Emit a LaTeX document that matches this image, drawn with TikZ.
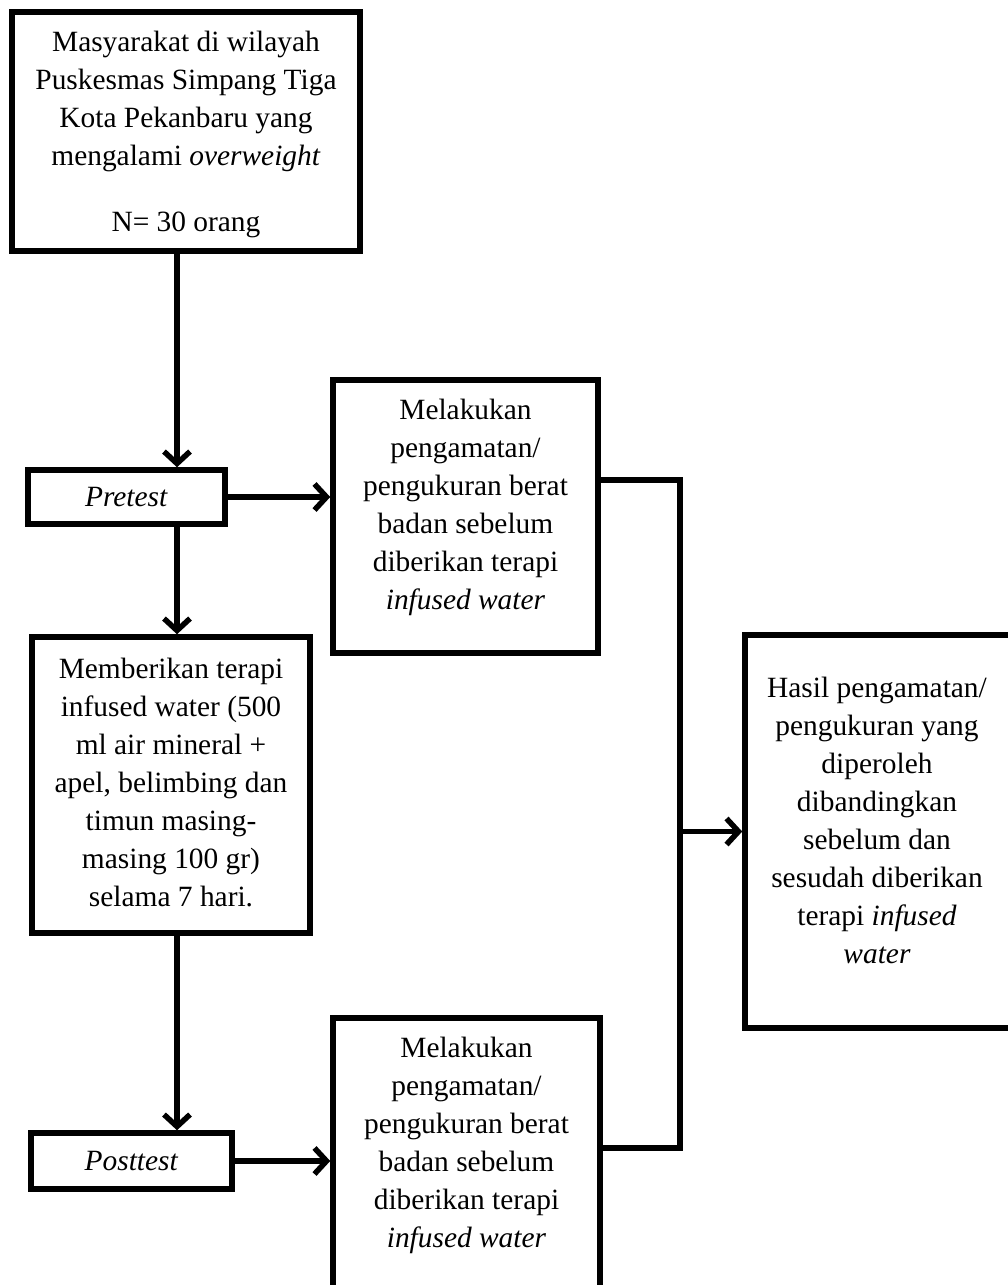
\documentclass[tikz,border=0pt]{standalone}
\usepackage{fontspec}
\setmainfont{Liberation Serif}
\usetikzlibrary{arrows.meta,calc}
\tikzset{
  boxshape/.style={draw=black, line width=5.5pt, rectangle, inner sep=0pt},
  txt/.style={align=center, inner sep=0pt, font=\fontsize{29.4}{38}\selectfont},
  conn/.style={line width=5.5pt, line join=miter},
  arr/.style={conn, -{Straight Barb[length=12pt,width=26pt]}}
}
\begin{document}
\begin{tikzpicture}[x=1pt,y=-1pt]
\useasboundingbox (0,0) rectangle (1008,1285);
\fill[white] (0,0) rectangle (1008,1285);
\clip (0,0) rectangle (1008,1285);
% boxes
\node[boxshape, minimum width=348pt, minimum height=239pt] (top) at (186,131.5) {};
\node[txt] (toptext) at ($(top)+(0,2.5)$) {Masyarakat di wilayah\\Puskesmas Simpang Tiga\\Kota Pekanbaru yang\\mengalami \textit{overweight}\\[28pt]N= 30 orang};
\node[boxshape, txt, minimum width=197pt, minimum height=54pt] (pre) at (126.5,497) {\textit{Pretest}};
\node[boxshape, minimum width=265pt, minimum height=273pt] (b2) at (465.5,516.5) {};
\node[txt] (b2text) at ($(b2)+(0,-9.5)$) {Melakukan\\pengamatan/\\pengukuran berat\\badan sebelum\\diberikan terapi\\\textit{infused water}};
\node[boxshape, minimum width=278pt, minimum height=296pt] (b3) at (171,785) {};
\node[txt] (b3text) at ($(b3)+(0,-2.5)$) {Memberikan terapi\\infused water (500\\ml air mineral +\\apel, belimbing dan\\timun masing-\\masing 100 gr)\\selama 7 hari.};
\node[boxshape, txt, minimum width=201pt, minimum height=56pt] (post) at (131.5,1161) {\textit{Posttest}};
\node[boxshape, minimum width=267pt, minimum height=273pt] (b4) at (466.5,1154.5) {};
\node[txt] (b4text) at ($(b4)+(0,-9.5)$) {Melakukan\\pengamatan/\\pengukuran berat\\badan sebelum\\diberikan terapi\\\textit{infused water}};
\node[boxshape, minimum width=267pt, minimum height=393pt] (hasil) at (878.5,831.5) {};
\node[txt] (hasiltext) at ($(hasil)+(-1.5,-11.5)$) {Hasil pengamatan/\\pengukuran yang\\diperoleh\\dibandingkan\\sebelum dan\\sesudah diberikan\\terapi \textit{infused}\\\textit{water}};
% connectors
\coordinate (c1) at (177,0);
\coordinate (bt) at (680,480);
\coordinate (bb) at (680,1148);
\draw[arr] (top.south -| c1) -- (pre.north -| c1);
\draw[arr] (pre.east) -- (pre.east -| b2.west);
\draw[arr] (pre.south -| c1) -- (b3.north -| c1);
\draw[arr] (b3.south -| c1) -- (post.north -| c1);
\draw[arr] (post.east) -- (post.east -| b4.west);
\draw[conn] (b2.east |- bt) -- (bt) -- (bb) -- (b4.east |- bb);
\draw[arr] (bt |- hasil.west) -- (hasil.west);
\end{tikzpicture}
\end{document}
